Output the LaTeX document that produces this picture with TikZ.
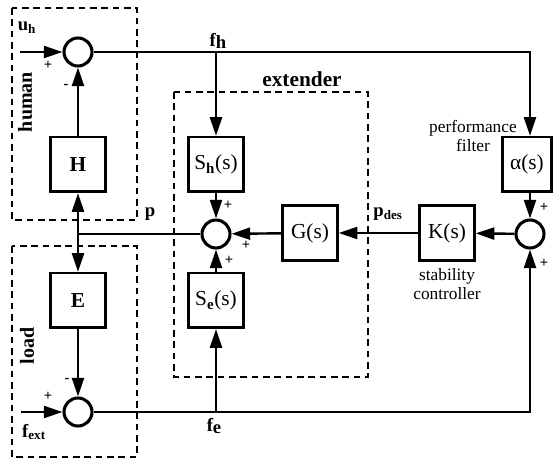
\documentclass[tikz,border=0pt]{standalone}
\usepackage{fontspec}
\setmainfont{Liberation Serif}
\usetikzlibrary{arrows.meta, positioning}

\begin{document}
\begin{tikzpicture}[x=0.75pt, y=-0.75pt,
  every node/.style={font=\fontsize{14}{16}\selectfont},
  block/.style={draw, line width=2pt, minimum width=41pt, minimum height=41pt, inner sep=0pt, font=\fontsize{16}{18}\selectfont},
  sumnode/.style={draw, circle, line width=2.3pt, minimum size=21pt, inner sep=0pt},
  group/.style={draw, line width=1.2pt, dash pattern=on 5pt off 3.5pt},
  signal/.style={line width=1.8pt},
  flow/.style={signal, -{Triangle[length=14pt, width=9pt]}},
  sign/.style={font=\fontsize{11}{12}\selectfont\bfseries, inner sep=0pt},
  tag/.style={font=\fontsize{13}{14.5}\selectfont, align=center, inner sep=0pt}]
  \useasboundingbox (0,0) rectangle (554,459);

  % Dashed groups
  \draw[group] (12,8) rectangle (137,220);
  \node[rotate=90, font=\fontsize{15}{17}\selectfont] (humanlbl) at (25,102) {\textbf{human}};
  \draw[group] (12,246) rectangle (137,457);
  \node[rotate=90, font=\fontsize{15}{17}\selectfont] (loadlbl) at (27,346) {\textbf{load}};
  \draw[group] (174,92) rectangle (368,377);
  \node[font=\fontsize{16}{18}\selectfont] (extlbl) at (302,79) {\textbf{extender}};

  % Blocks and summing junctions
  \node[sumnode] (sh) at (78,52) {};
  \node[block] (H) at (78,164.5) {\textbf{H}};
  \node[block] (E) at (78,300.5) {\textbf{E}};
  \node[sumnode] (sl) at (78,412) {};
  \node[block] (Sh) at (216,164.5) {S\textsubscript{\bfseries h}(s)};
  \node[sumnode] (sx) at (216,234) {};
  \node[block] (Se) at (216,300.5) {S\textsubscript{\bfseries e}(s)};
  \node[block] (G) at (310,233) {G(s)};
  \node[block] (K) at (447,233) {K(s)};
  \node[sumnode] (sk) at (530,234) {};
  \node[block, minimum width=37pt] (alpha) at (527,164.5) {α(s)};

  % Branch points and corners
  \coordinate (uin) at (20,52);
  \coordinate (fin) at (21,412);
  \coordinate (fh) at (216,52);
  \coordinate (fe) at (216,412);
  \coordinate (pj) at (78,234);
  \coordinate (tr) at (530,52);
  \coordinate (br) at (530,412);

  % Signals
  \draw[flow] (uin) -- (sh);
  \draw[flow] (H) -- (sh);
  \draw[flow] (sh) -- (tr) -- (alpha.north -| tr);
  \draw[flow] (fh) -- (Sh);
  \draw[flow] (Sh) -- (sx);
  \draw[flow] (Se) -- (sx);
  \draw[flow] (fe) -- (Se);
  \draw[flow] (G) -- (sx);
  \draw[flow] (K) -- (G);
  \draw[flow] (sk) -- (K);
  \draw[flow] (alpha.south -| sk) -- (sk);
  \draw[flow] (pj) -- (H);
  \draw[flow] (pj) -- (E);
  \draw[signal] (pj) -- (sx);
  \draw[flow] (fin) -- (sl);
  \draw[flow] (E) -- (sl);
  \draw[flow] (sl) -- (br) -- (sk);

  % Signal names
  \node (uhlbl) at (27,28) {\textbf{u\textsubscript{h}}};
  \node (fhlbl) at (218,41) {\textbf{f\raisebox{-2pt}{h}}};
  \node (plbl) at (150,214) {\textbf{p}};
  \node (pdeslbl) at (388,214) {\textbf{p\textsubscript{des}}};
  \node (felbl) at (214,426) {\textbf{f\raisebox{-2pt}{e}}};
  \node (fextlbl) at (34,432) {\textbf{f\textsubscript{ext}}};
  \node[tag] (perflbl) at (473,136) {performance\\filter};
  \node[tag] (stablbl) at (447,284) {stability\\controller};

  % Signs
  \node[sign] (s1) at (48,65) {+};
  \node[sign] (s2) at (66,86) {-};
  \node[sign] (s3) at (228,205) {+};
  \node[sign] (s4) at (246,245) {+};
  \node[sign] (s5) at (229,260) {+};
  \node[sign] (s6) at (544,207) {+};
  \node[sign] (s7) at (544,263) {+};
  \node[sign] (s8) at (48,396) {+};
  \node[sign] (s9) at (67,380) {-};
\end{tikzpicture}
\end{document}
